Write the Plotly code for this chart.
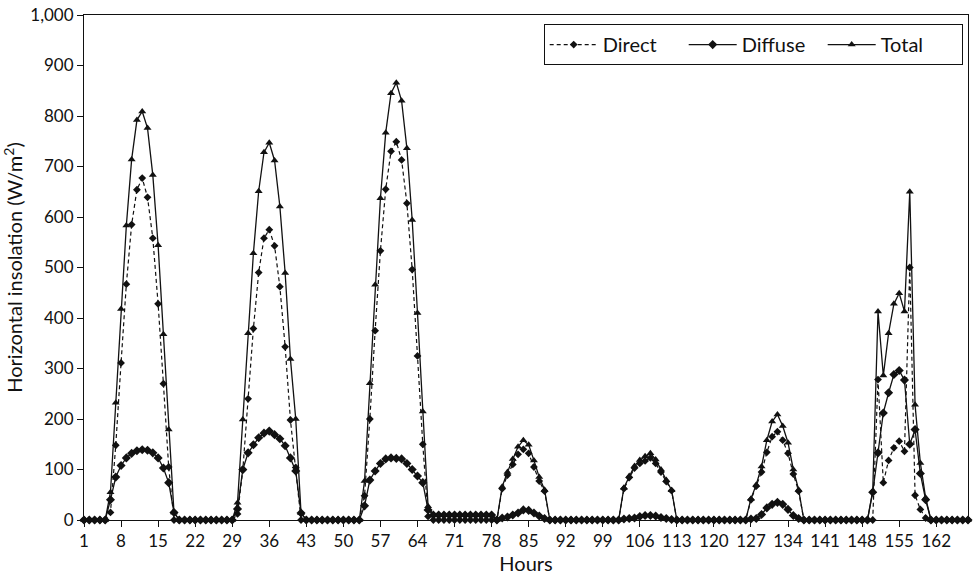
import plotly.graph_objects as go

hours = list(range(1, 169))

# Values in W/m2, one row per day (24 hours each)
total = [
    0, 0, 0, 0, 0, 55, 232, 418, 583, 714, 792, 809, 776, 683, 544, 368, 179, 15, 0, 0, 0, 0, 0, 0,
    0, 0, 0, 0, 0, 34, 199, 370, 528, 651, 728, 747, 712, 621, 489, 319, 200, 14, 0, 0, 0, 0, 0, 0,
    0, 0, 0, 0, 0, 77, 271, 466, 637, 767, 845, 866, 830, 736, 594, 410, 215, 27, 10, 10, 10, 10, 10, 10,
    10, 10, 10, 10, 10, 10, 0, 66, 95, 121, 145, 158, 149, 118, 85, 60, 0, 0, 0, 0, 0, 0, 0, 0,
    0, 0, 0, 0, 0, 0, 64, 87, 107, 119, 126, 132, 120, 100, 79, 59, 0, 0, 0, 0, 0, 0, 0, 0,
    0, 0, 0, 0, 0, 0, 42, 70, 106, 158, 195, 209, 186, 153, 100, 60, 0, 0, 0, 0, 0, 0, 0, 0,
    0, 0, 0, 0, 0, 57, 413, 286, 370, 428, 449, 413, 650, 228, 113, 44, 0, 0, 0, 0, 0, 0, 0, 0,
]
direct = [
    0, 0, 0, 0, 0, 15, 148, 311, 467, 585, 654, 677, 639, 558, 428, 270, 105, 0, 0, 0, 0, 0, 0, 0,
    0, 0, 0, 0, 0, 12, 99, 240, 379, 490, 558, 575, 543, 462, 343, 198, 104, 0, 0, 0, 0, 0, 0, 0,
    0, 0, 0, 0, 0, 48, 200, 375, 533, 655, 730, 749, 713, 627, 496, 325, 150, 7, 0, 0, 0, 0, 0, 0,
    0, 0, 0, 0, 0, 0, 0, 62, 89, 110, 130, 140, 132, 105, 77, 57, 0, 0, 0, 0, 0, 0, 0, 0,
    0, 0, 0, 0, 0, 0, 62, 84, 103, 112, 117, 123, 112, 95, 76, 58, 0, 0, 0, 0, 0, 0, 0, 0,
    0, 0, 0, 0, 0, 0, 40, 67, 95, 134, 165, 175, 158, 132, 91, 57, 0, 0, 0, 0, 0, 0, 0, 0,
    0, 0, 0, 0, 0, 0, 278, 74, 118, 143, 156, 136, 500, 49, 21, 4, 0, 0, 0, 0, 0, 0, 0, 0,
]
diffuse = [
    0, 0, 0, 0, 0, 40, 85, 108, 123, 132, 137, 139, 138, 133, 123, 103, 74, 15, 0, 0, 0, 0, 0, 0,
    0, 0, 0, 0, 0, 22, 100, 133, 149, 163, 172, 176, 169, 161, 147, 123, 97, 14, 0, 0, 0, 0, 0, 0,
    0, 0, 0, 0, 0, 28, 79, 97, 112, 121, 123, 122, 121, 112, 100, 87, 74, 20, 10, 10, 10, 10, 10, 10,
    10, 10, 10, 10, 10, 10, 0, 4, 6, 10, 14, 20, 19, 14, 8, 3, 0, 0, 0, 0, 0, 0, 0, 0,
    0, 0, 0, 0, 0, 0, 2, 3, 4, 7, 9, 9, 8, 5, 3, 1, 0, 0, 0, 0, 0, 0, 0, 0,
    0, 0, 0, 0, 0, 0, 2, 3, 11, 24, 31, 35, 31, 21, 9, 3, 0, 0, 0, 0, 0, 0, 0, 0,
    0, 0, 0, 0, 0, 55, 133, 212, 252, 288, 296, 277, 150, 179, 92, 40, 0, 0, 0, 0, 0, 0, 0, 0,
]

x_ticks = [1, 8, 15, 22, 29, 36, 43, 50, 57, 64, 71, 78, 85, 92, 99, 106, 113,
           120, 127, 134, 141, 148, 155, 162]
y_ticks = [0, 100, 200, 300, 400, 500, 600, 700, 800, 900, 1000]

FONT = "Lato, 'Open Sans', sans-serif"
INK = "#111111"

fig = go.Figure()
fig.add_trace(go.Scatter(
    x=hours, y=direct, name="Direct", mode="lines+markers",
    line=dict(color=INK, width=1.2, dash="4px,3px"),
    marker=dict(symbol="diamond", size=6, color=INK),
    cliponaxis=False,
))
fig.add_trace(go.Scatter(
    x=hours, y=diffuse, name="Diffuse", mode="lines+markers",
    line=dict(color=INK, width=1.3),
    marker=dict(symbol="diamond", size=7, color=INK),
    cliponaxis=False,
))
fig.add_trace(go.Scatter(
    x=hours, y=total, name="Total", mode="lines+markers",
    line=dict(color=INK, width=1.3),
    marker=dict(symbol="triangle-up", size=7, color=INK),
    cliponaxis=False,
))

fig.update_layout(
    width=973, height=583,
    margin=dict(l=84, r=5, t=15, b=63),
    paper_bgcolor="white", plot_bgcolor="white",
    font=dict(family=FONT, size=17, color=INK),
    showlegend=True,
    legend=dict(
        orientation="h", x=0.994, xanchor="right", y=0.982, yanchor="top",
        bordercolor=INK, borderwidth=1, bgcolor="white",
        font=dict(size=20), itemwidth=48,
        entrywidth=76, entrywidthmode="pixels",
    ),
    xaxis=dict(
        range=[1, 168], tickvals=x_ticks, ticks="outside", ticklen=6,
        tickcolor=INK, showgrid=False, zeroline=False,
        showline=True, linecolor=INK, linewidth=1, mirror=True,
        title=dict(text="Hours", standoff=4),
    ),
    yaxis=dict(
        range=[0, 1000], tickvals=y_ticks, tickformat=",", ticks="outside",
        ticklen=6, tickcolor=INK, showgrid=False, zeroline=False,
        showline=True, linecolor=INK, linewidth=1, mirror=True,
        title=dict(text="Horizontal insolation (W/m<sup>2</sup>)", standoff=8),
    ),
)

fig.write_html("out.html")
